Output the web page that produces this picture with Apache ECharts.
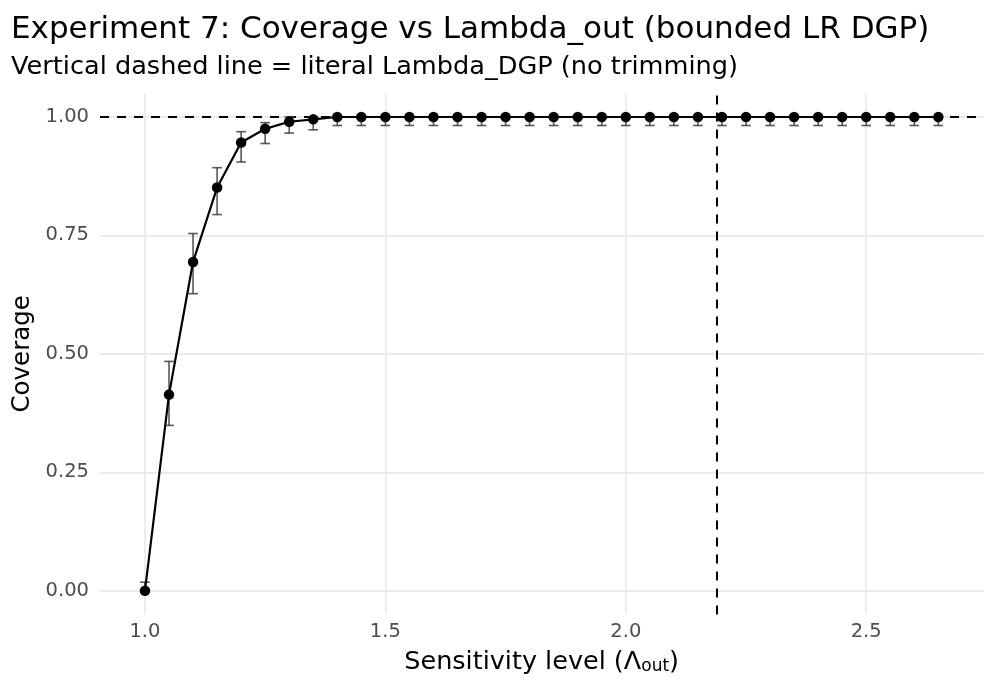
<!DOCTYPE html>
<html>
<head>
<meta charset="utf-8">
<script src="https://cdn.jsdelivr.net/npm/echarts@6/dist/echarts.min.js"></script>
<style>
html,body{margin:0;padding:0;background:#fff;}
#chart{width:996px;height:690px;}
</style>
</head>
<body>
<div id="chart"></div>
<script>
// ---- data ----
var lambdaOut = [1.00,1.05,1.10,1.15,1.20,1.25,1.30,1.35,1.40,1.45,1.50,1.55,1.60,1.65,1.70,1.75,1.80,1.85,1.90,1.95,2.00,2.05,2.10,2.15,2.20,2.25,2.30,2.35,2.40,2.45,2.50,2.55,2.60,2.65];
var coverage  = [0.000,0.414,0.694,0.851,0.946,0.975,0.990,0.995,1,1,1,1,1,1,1,1,1,1,1,1,1,1,1,1,1,1,1,1,1,1,1,1,1,1];
var ciLower   = [0.000,0.349,0.627,0.794,0.905,0.944,0.966,0.973,0.982,0.982,0.982,0.982,0.982,0.982,0.982,0.982,0.982,0.982,0.982,0.982,0.982,0.982,0.982,0.982,0.982,0.982,0.982,0.982,0.982,0.982,0.982,0.982,0.982,0.982];
var ciUpper   = [0.018,0.484,0.754,0.893,0.969,0.988,1.000,1.000,1,1,1,1,1,1,1,1,1,1,1,1,1,1,1,1,1,1,1,1,1,1,1,1,1,1];
var lambdaDGP = 2.19;
var targetCoverage = 1.0;
var xTicks = [1.0, 1.5, 2.0, 2.5];
var yTicks = [0, 0.25, 0.5, 0.75, 1.0];

var FONT = 'DejaVu Sans';
var chart = echarts.init(document.getElementById('chart'), null, {renderer:'canvas'});

var lineData = lambdaOut.map(function(x,i){ return [x, coverage[i]]; });
var barData = lambdaOut.map(function(x,i){ return [x, ciLower[i], ciUpper[i]]; });

var gridLines = xTicks.map(function(v){ return {xAxis: v}; })
  .concat(yTicks.map(function(v){ return {yAxis: v}; }));

var option = {
  backgroundColor: '#ffffff',
  animation: false,
  title: [
    {text: 'Experiment 7: Coverage vs Lambda_out (bounded LR DGP)', left: 11, top: 14, padding: 0,
     textStyle: {fontFamily: FONT, fontSize: 31, fontWeight: 'normal', color: '#000'}},
    {text: 'Vertical dashed line = literal Lambda_DGP (no trimming)', left: 11, top: 54, padding: 0,
     textStyle: {fontFamily: FONT, fontSize: 25.6, fontWeight: 'normal', color: '#000'}}
  ],
  grid: {left: 100, right: 12.7, top: 93.3, bottom: 75.6, containLabel: false},
  xAxis: {
    type: 'value', min: 0.9065, max: 2.7435,
    axisLine: {show: false}, axisTick: {show: false}, splitLine: {show: false},
    axisLabel: {customValues: xTicks, fontFamily: FONT, fontSize: 19.5, color: '#4d4d4d', margin: 8,
      formatter: function(v){ return v.toFixed(1); }},
    name: '{a|Sensitivity level (Λ}{s|out}{a|)}',
    nameLocation: 'middle', nameGap: 35,
    nameTextStyle: {rich: {
      a: {fontFamily: FONT, fontSize: 25.5, color: '#000'},
      s: {fontFamily: FONT, fontSize: 17, color: '#000', verticalAlign: 'bottom', padding:[7,0,0,0]}
    }}
  },
  yAxis: {
    type: 'value', min: -0.05, max: 1.05,
    axisLine: {show: false}, axisTick: {show: false}, splitLine: {show: false},
    axisLabel: {customValues: yTicks, fontFamily: FONT, fontSize: 19.5, color: '#4d4d4d', margin: 11,
      formatter: function(v){ return v.toFixed(2); }},
    name: 'Coverage', nameLocation: 'middle', nameGap: 64, nameRotate: 90,
    nameTextStyle: {fontFamily: FONT, fontSize: 24.5, color: '#000'}
  },
  series: [
    {
      type: 'line', data: [], z: 0, silent: true,
      markLine: {silent: true, symbol: 'none', animation: false, z: 0,
        label: {show: false},
        lineStyle: {color: '#ebebeb', width: 1.8, type: 'solid'},
        data: gridLines}
    },
    {
      type: 'line', data: [], z: 1, silent: true,
      markLine: {silent: true, symbol: 'none', animation: false, z: 1,
        label: {show: false},
        lineStyle: {color: '#000', width: 2, type: [9, 8]},
        data: [{yAxis: targetCoverage}, {xAxis: lambdaDGP}]}
    },
    {
      type: 'custom', z: 2, silent: true,
      data: barData,
      encode: {x: 0, y: [1, 2]},
      renderItem: function(params, api){
        var x = api.value(0), lo = api.value(1), hi = api.value(2);
        var p1 = api.coord([x, lo]), p2 = api.coord([x, hi]);
        var hw = api.size([0.01, 0])[0];
        var st = {stroke: 'rgba(60,60,60,0.85)', lineWidth: 1.6, fill: null};
        return {type: 'group', children: [
          {type: 'line', shape: {x1: p1[0], y1: p1[1], x2: p2[0], y2: p2[1]}, style: st},
          {type: 'line', shape: {x1: p1[0]-hw, y1: p1[1], x2: p1[0]+hw, y2: p1[1]}, style: st},
          {type: 'line', shape: {x1: p2[0]-hw, y1: p2[1], x2: p2[0]+hw, y2: p2[1]}, style: st}
        ]};
      }
    },
    {
      type: 'line', z: 3, data: lineData,
      symbol: 'circle', symbolSize: 10.5,
      lineStyle: {color: '#000', width: 2.2},
      itemStyle: {color: '#000'},
      silent: true
    }
  ]
};
chart.setOption(option);
</script>
</body>
</html>
